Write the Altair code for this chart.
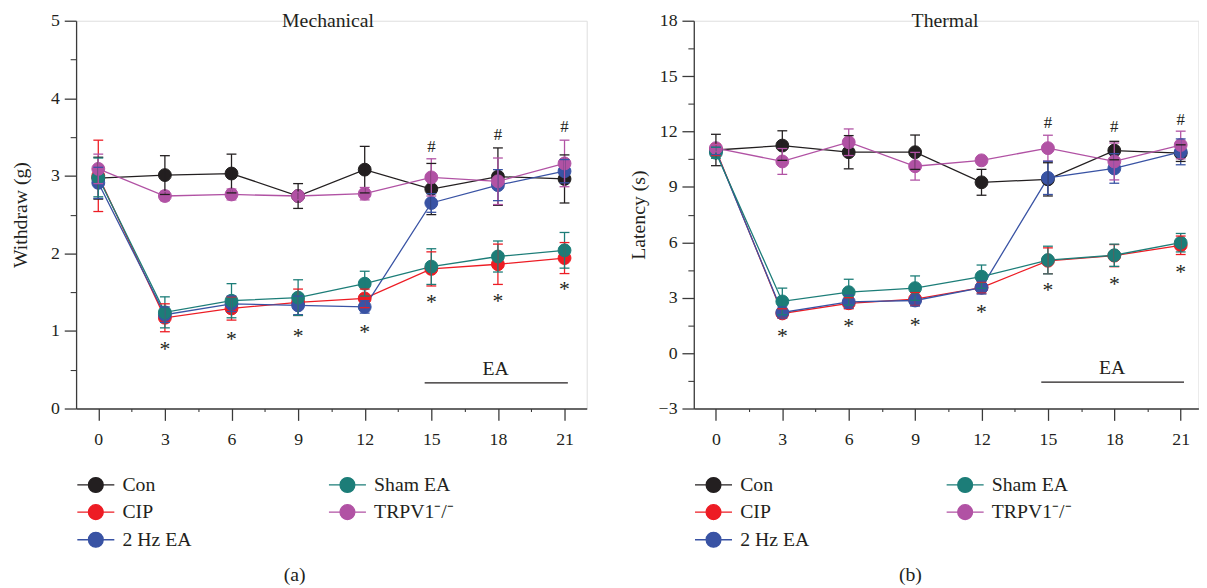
import altair as alt
import pandas as pd

FONT = "Liberation Serif"
INK = "#231f20"
AXC = "#3a3a3a"

groups = ["Con", "CIP", "2 Hz EA", "Sham EA", "TRPV1⁻/⁻"]
group_colors = ["#231f20", "#ed1c24", "#3953a4", "#1c7d78", "#b152a4"]
days = [0, 3, 6, 9, 12, 15, 18, 21]
minor_days = [1.5, 4.5, 7.5, 10.5, 13.5, 16.5, 19.5]
star_days = [3, 6, 9, 12, 15, 18, 21]
hash_days = [15, 18, 21]
ea_span = [14.7, 21.15]
ea_label_day = 17.9
title_day = 10.35

# Mechanical (withdraw threshold, g): means and error bars
mech_con = [2.97, 3.01, 3.03, 2.74, 3.08, 2.83, 2.99, 2.96]
mech_con_err = [0.27, 0.25, 0.25, 0.16, 0.30, 0.33, 0.37, 0.31]
mech_cip = [3.00, 1.17, 1.29, 1.37, 1.42, 1.80, 1.86, 1.94]
mech_cip_err = [0.46, 0.18, 0.15, 0.17, 0.12, 0.22, 0.26, 0.20]
mech_ea = [2.91, 1.21, 1.35, 1.33, 1.31, 2.65, 2.88, 3.06]
mech_ea_err = [0.20, 0.10, 0.10, 0.12, 0.08, 0.12, 0.20, 0.15]
mech_sham = [2.98, 1.24, 1.39, 1.43, 1.61, 1.83, 1.96, 2.04]
mech_sham_err = [0.25, 0.20, 0.22, 0.23, 0.16, 0.23, 0.20, 0.23]
mech_trpv = [3.09, 2.74, 2.76, 2.74, 2.77, 2.98, 2.93, 3.16]
mech_trpv_err = [0.19, 0.06, 0.07, 0.05, 0.08, 0.24, 0.30, 0.30]
mech_star_y = [0.82, 0.95, 0.98, 1.04, 1.42, 1.44, 1.59]
mech_hash_y = [3.39, 3.54, 3.64]
mech_ea_text_y = 0.52
mech_ea_line_y = 0.33
mech_major = [0, 1, 2, 3, 4, 5]
mech_minor = [0.5, 1.5, 2.5, 3.5, 4.5]

# Thermal (latency, s): means and error bars
therm_con = [11.00, 11.24, 10.88, 10.88, 9.25, 9.41, 10.97, 10.83]
therm_con_err = [0.85, 0.80, 0.90, 0.93, 0.70, 0.90, 0.50, 0.45]
therm_cip = [11.00, 2.15, 2.70, 2.93, 3.55, 5.00, 5.28, 5.84]
therm_cip_err = [0.30, 0.25, 0.30, 0.35, 0.30, 0.70, 0.60, 0.50]
therm_ea = [10.95, 2.20, 2.78, 2.85, 3.55, 9.49, 10.00, 10.90]
therm_ea_err = [0.20, 0.30, 0.35, 0.30, 0.35, 0.90, 0.80, 0.70]
therm_sham = [10.85, 2.80, 3.30, 3.52, 4.14, 5.04, 5.30, 5.98]
therm_sham_err = [0.30, 0.72, 0.70, 0.66, 0.63, 0.75, 0.60, 0.50]
therm_trpv = [11.10, 10.38, 11.42, 10.12, 10.44, 11.10, 10.38, 11.27]
therm_trpv_err = [0.20, 0.70, 0.72, 0.75, 0.10, 0.70, 1.00, 0.75]
therm_star_y = [1.14, 1.70, 1.73, 2.41, 3.61, 3.93, 4.59]
therm_hash_y = [12.52, 12.29, 12.70]
therm_ea_text_y = -0.77
therm_ea_line_y = -1.57
therm_major = [-3, 0, 3, 6, 9, 12, 15, 18]
therm_minor = [-1.5, 1.5, 4.5, 7.5, 10.5, 13.5, 16.5]

LEGEND_SYMBOL = "M-2.5,0L-1,0M1,0L2.5,0M1,0A1,1,0,1,1,-1,0A1,1,0,1,1,1,0Z"
PLOT_H = 393


def panel(series, errs, stars, hashes, ea_text_y, ea_line_y, ydom, ymaj, ymin,
          xmax, width, title, tag, tag_x, ytitle):
    rows = []
    for g, vals, ee in zip(groups, series, errs):
        for d, v, e in zip(days, vals, ee):
            rows.append({"group": g, "day": d, "value": v, "lo": v - e, "hi": v + e})
    df = pd.DataFrame(rows)

    xs = alt.Scale(domain=[-1, xmax], nice=False, zero=False)
    ys = alt.Scale(domain=ydom, nice=False, zero=False)

    def leg():
        return alt.Legend(
            title=None, orient="none", legendX=10, legendY=460, columns=2,
            columnPadding=136, rowPadding=6, symbolType=LEGEND_SYMBOL,
            symbolSize=225, symbolStrokeWidth=1.3, symbolOpacity=1,
            labelFont=FONT, labelFontSize=20, labelColor=INK, labelOffset=17,
            padding=0, labelLimit=300,
        )

    def stroke():
        return alt.Stroke("group:N", scale=alt.Scale(domain=groups, range=group_colors),
                          legend=leg())

    x_main = alt.Axis(
        orient="bottom", values=days, format="d", tickSize=12, tickWidth=1.3,
        tickColor=AXC, domainColor=AXC, domainWidth=1.3, labelFont=FONT,
        labelFontSize=18, labelColor=INK, labelPadding=10, labelFlush=False,
        grid=False, title=tag, titleFont=FONT, titleFontSize=20,
        titleFontWeight="normal", titleColor=INK, titleX=tag_x, titleY=168,
        titleBaseline="middle", titleAlign="center",
    )
    y_main = alt.Axis(
        orient="left", values=ymaj, format="d", tickSize=12, tickWidth=1.3,
        tickColor=AXC, domainColor=AXC, domainWidth=1.3, labelFont=FONT,
        labelFontSize=18, labelColor=INK, labelPadding=5, grid=False,
        title=ytitle, titleFont=FONT, titleFontSize=20, titleFontWeight="normal",
        titleColor=INK, titleX=-56, titleY=PLOT_H / 2, titleAngle=270,
        titleBaseline="middle", titleAlign="center",
    )
    x_minor = alt.Axis(orient="bottom", values=minor_days, tickSize=3, tickWidth=1.1,
                       tickColor=AXC, labels=False, domain=False, grid=False, title=None)
    y_minor = alt.Axis(orient="left", values=ymin, tickSize=6, tickWidth=1.1,
                       tickColor=AXC, labels=False, domain=False, grid=False, title=None)

    X = lambda f="day:Q": alt.X(f, scale=xs, axis=None)
    Y = lambda f: alt.Y(f, scale=ys, axis=None)

    minor = alt.Chart(df).mark_point(opacity=0).encode(
        x=alt.X("day:Q", scale=xs, axis=x_minor),
        y=alt.Y("value:Q", scale=ys, axis=y_minor),
    )
    lines = alt.Chart(df).mark_line(strokeWidth=1.3).encode(
        x=alt.X("day:Q", scale=xs, axis=x_main),
        y=alt.Y("value:Q", scale=ys, axis=y_main),
        stroke=stroke(),
    )
    ea_df = pd.DataFrame({"x0": [ea_span[0]], "x1": [ea_span[1]], "y": [ea_line_y],
                          "ty": [ea_text_y], "tx": [ea_label_day]})
    ea_rule = alt.Chart(ea_df).mark_rule(color=INK, strokeWidth=1.3).encode(
        x=X("x0:Q"), x2="x1", y=Y("y:Q"))
    ea_text = alt.Chart(ea_df).mark_text(
        text="EA", font=FONT, fontSize=20, color=INK, baseline="alphabetic", dy=7
    ).encode(x=X("tx:Q"), y=Y("ty:Q"))
    pts = alt.Chart(df).mark_point(filled=True, size=170, strokeWidth=1, opacity=1).encode(
        x=X(), y=Y("value:Q"),
        fill=alt.Fill("group:N", scale=alt.Scale(domain=groups, range=group_colors),
                      legend=leg()),
        stroke=stroke(),
    )
    err = alt.Chart(df).mark_rule(strokeWidth=1.3).encode(
        x=X(), y=Y("lo:Q"), y2="hi:Q", stroke=stroke(),
    )
    cap_lo = alt.Chart(df).mark_rule(strokeWidth=1.3, xOffset=-5, x2Offset=5).encode(
        x=X(), x2="day", y=Y("lo:Q"), stroke=stroke(),
    )
    cap_hi = alt.Chart(df).mark_rule(strokeWidth=1.3, xOffset=-5, x2Offset=5).encode(
        x=X(), x2="day", y=Y("hi:Q"), stroke=stroke(),
    )
    st_df = pd.DataFrame({"day": star_days, "y": stars})
    star = alt.Chart(st_df).mark_text(
        text="*", font=FONT, fontSize=22, color=INK, baseline="alphabetic", dy=11
    ).encode(x=X(), y=Y("y:Q"))
    h_df = pd.DataFrame({"day": hash_days, "y": hashes})
    hsh = alt.Chart(h_df).mark_text(
        text="#", font=FONT, fontSize=17, color=INK, baseline="alphabetic", dy=6
    ).encode(x=X(), y=Y("y:Q"))
    t_df = pd.DataFrame({"day": [title_day], "y": [ydom[1]], "label": [title]})
    ttl = alt.Chart(t_df).mark_text(
        font=FONT, fontSize=20, color=INK, baseline="middle", align="center"
    ).encode(x=X(), y=Y("y:Q"), text="label:N")

    return alt.layer(minor, lines, ea_rule, ea_text, pts, err, cap_lo, cap_hi, star, hsh,
                     ttl).resolve_axis(
        x="independent", y="independent"
    ).properties(width=width, height=PLOT_H)


left = panel([mech_con, mech_cip, mech_ea, mech_sham, mech_trpv],
             [mech_con_err, mech_cip_err, mech_ea_err, mech_sham_err, mech_trpv_err],
             mech_star_y, mech_hash_y, mech_ea_text_y, mech_ea_line_y,
             [0, 5], mech_major, mech_minor, 22, 517.5, "Mechanical", "(a)", 221,
             "Withdraw (g)")
right = panel([therm_con, therm_cip, therm_ea, therm_sham, therm_trpv],
              [therm_con_err, therm_cip_err, therm_ea_err, therm_sham_err, therm_trpv_err],
              therm_star_y, therm_hash_y, therm_ea_text_y, therm_ea_line_y,
              [-3, 18], therm_major, therm_minor, 21.8, 511.4, "Thermal", "(b)", 219,
              "Latency (s)")

chart = alt.hconcat(left, right, spacing=108, bounds="flush").resolve_scale(
    x="independent", y="independent", fill="independent", stroke="independent"
).resolve_legend(fill="independent", stroke="independent").properties(
    padding={"left": 2, "top": -2, "right": 0, "bottom": 0}
).configure_view(stroke=None).configure(font=FONT)

chart.save("out.html", embed_options={"renderer": "svg", "actions": False})
